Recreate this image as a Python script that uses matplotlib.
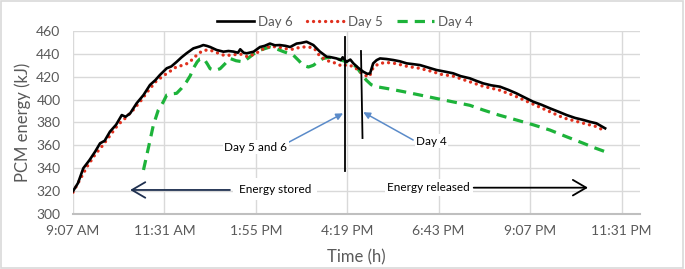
import matplotlib.pyplot as plt
from matplotlib.patches import Rectangle

plt.rcParams['font.family'] = ['Lato', 'DejaVu Sans']

# time in hours of the day, energy in kJ
t6 = [9.12, 9.25, 9.39, 9.55, 9.70, 9.83, 9.95, 10.09, 10.25, 10.40, 10.50, 10.62,
      10.79, 10.97, 11.14, 11.28, 11.40, 11.58, 11.70, 11.84, 11.97, 12.10, 12.28,
      12.45, 12.54, 12.63, 12.72, 12.89, 13.07, 13.20, 13.33, 13.45, 13.51, 13.60,
      13.68, 13.86, 14.03, 14.15, 14.29, 14.42, 14.55, 14.70, 14.82, 14.99, 15.10,
      15.25, 15.35, 15.43, 15.60, 15.78, 15.90, 16.04, 16.15, 16.20, 16.30, 16.40,
      16.48, 16.60, 16.74, 16.85, 16.92, 17.00, 17.09, 17.18, 17.35, 17.53, 17.70,
      17.88, 18.05, 18.23, 18.45, 18.66, 18.88, 19.10, 19.30, 19.54, 19.70, 19.89,
      20.10, 20.33, 20.55, 20.76, 21.00, 21.20, 21.42, 21.64, 21.86, 22.08, 22.30,
      22.52, 22.70, 22.86, 23.09]
e6 = [320, 327, 340, 347, 354.5, 361.8, 364, 372, 378, 386.5, 385, 388,
      396.8, 404, 412.8, 417, 421.5, 427.4, 429, 433, 437, 440.5, 444.8,
      446.5, 447.7, 447, 446, 443.4, 441.9, 442.5, 442, 441, 444, 441,
      440.5, 441.9, 446, 447, 449, 447.5, 447.7, 447, 446, 449, 449.5,
      450.6, 449, 447.7, 442, 437.5, 437, 436, 434.5, 437, 433, 435,
      431.7, 428, 424.4, 422.5, 423, 431.7, 434.5, 436, 435.5, 434.6, 433.5,
      431.7, 431, 430.2, 428, 425.9, 424.5, 423, 420.5, 418.6, 416.5, 414.2,
      412.5, 411.3, 408.5, 405.5, 401.5, 398.2, 395.5, 392.4, 389.5, 386.5, 384,
      382.2, 380.5, 379.3, 374.9]

t5 = [9.12, 9.3, 9.5, 9.7, 9.9, 10.1, 10.3, 10.5, 10.7, 10.9, 11.1, 11.3, 11.5,
      11.7, 11.84, 12.0, 12.15, 12.28, 12.40, 12.54, 12.7, 12.9, 13.1, 13.3, 13.5,
      13.7, 13.9, 14.1, 14.3, 14.5, 14.7, 14.9, 15.1, 15.3, 15.45, 15.6, 15.8, 16.0,
      16.2, 16.3, 16.48, 16.6, 16.75, 16.9, 17.0, 17.15, 17.35, 17.6, 17.9, 18.2,
      18.5, 18.8, 19.1, 19.5, 19.9, 20.3, 20.7, 21.2, 21.6, 22.0, 22.5, 22.85, 23.04]
e5 = [319, 330, 342, 352, 360, 369, 378, 384, 391, 399, 408, 416, 421,
      425.5, 428.8, 430, 432, 436, 440, 443, 443.5, 441, 438.5, 439, 440,
      437.5, 440, 444, 446.5, 446, 444.5, 444, 446, 446, 445, 438, 434, 432,
      429, 430.5, 429, 426, 421.5, 420, 428, 431.5, 432.5, 431.5, 429, 427.5,
      425, 422, 420.5, 416, 411.5, 408.5, 403.5, 396, 390, 384, 379.5, 376.5, 373.4]

t4 = [10.97, 11.10, 11.23, 11.36, 11.49, 11.58, 11.70, 11.84, 11.97, 12.10, 12.20,
      12.28, 12.38, 12.45, 12.55, 12.65, 12.72, 12.85, 12.98, 13.10, 13.24, 13.40,
      13.59, 13.75, 13.94, 14.10, 14.29, 14.45, 14.64, 14.90, 15.05, 15.16, 15.30,
      15.43, 15.55, 15.69, 15.85, 16.04, 16.30, 16.56, 16.70, 16.82, 16.95, 17.09,
      17.40, 17.79, 18.23, 18.66, 19.10, 19.54, 19.89, 20.30, 20.76, 21.20, 21.64,
      22.08, 22.52, 22.80, 23.09]
e4 = [338.5, 358, 377.8, 391, 398, 404, 405, 405.5, 410, 415.6, 421,
      427.4, 433, 435.5, 436, 431, 427, 425.5, 427, 431, 436, 434,
      433, 437, 442, 444, 446, 444.5, 442, 439, 434, 430, 428.5,
      430, 433, 436, 437, 436, 433, 428.8, 422, 417, 413, 411.3,
      409.5, 407, 404, 401, 398, 395, 390.9, 386.5, 382.2, 378, 373.4,
      367.5, 361.8, 358, 354.5]

xticks = [9.12 + 2.4 * k for k in range(7)]
xlabels = ['9:07 AM', '11:31 AM', '1:55 PM', '4:19 PM', '6:43 PM', '9:07 PM', '11:31 PM']
yticks = list(range(300, 461, 20))

# hand-drawn marker lines (time, energy)
mark56 = ([16.26, 16.26], [455, 338])
mark4 = ([16.68, 16.72], [442.5, 366.4])

fig = plt.figure(figsize=(6.85, 2.69), dpi=100)
fig.patches.append(Rectangle((0.002, 0.004), 0.995, 0.992, transform=fig.transFigure,
                             fill=False, edgecolor='#D9D9D9', lw=1.2))
ax = fig.add_axes([0.1066, 0.2045, 0.934 - 0.1066, 0.8848 - 0.2045])

ax.plot(t6, e6, color='black', lw=1.9, label='Day 6', zorder=4)
ax.plot(t5, e5, color='#E0301E', lw=2.4, linestyle=(0, (0.01, 1.8)),
        dash_capstyle='round', label='Day 5', zorder=3)
ax.plot(t4, e4, color='#1DB33A', lw=2.3, linestyle=(0, (3.2, 2.2)), label='Day 4', zorder=2)

ax.plot(*mark56, color='black', lw=1.3, zorder=5)
ax.plot(*mark4, color='black', lw=1.3, zorder=5)

ax.set_xlim(9.12, 24)
ax.set_ylim(300, 460)
ax.set_xticks(xticks)
ax.set_xticklabels(xlabels)
ax.set_yticks(yticks)
ax.tick_params(length=0, labelsize=10, colors='#595959')
ax.tick_params(axis='x', pad=8)
ax.tick_params(axis='y', pad=9)
ax.grid(True, color='#D9D9D9', lw=1)
ax.set_axisbelow(True)
for s in ['top', 'right', 'left']:
    ax.spines[s].set_visible(False)
ax.spines['bottom'].set_color('#BFBFBF')
ax.spines['bottom'].set_linewidth(1.5)

ax.set_xlabel('Time (h)', fontsize=12, color='#595959', labelpad=9)
ax.set_ylabel('PCM energy (kJ)', fontsize=12, color='#595959', labelpad=4)

box = dict(facecolor='white', edgecolor='none', pad=1)
blue = '#5B8BC9'
ax.annotate('', xy=(16.21, 388), xytext=(14.74, 362),
            arrowprops=dict(arrowstyle='-|>', color=blue, lw=1.1, mutation_scale=10,
                            shrinkA=0, shrinkB=0), zorder=6)
ax.annotate('', xy=(16.74, 389), xytext=(18.05, 364.7),
            arrowprops=dict(arrowstyle='-|>', color=blue, lw=1.1, mutation_scale=10,
                            shrinkA=0, shrinkB=0), zorder=6)
ax.text(13.92, 358.3, 'Day 5 and 6', fontsize=8.5, ha='center', va='center', bbox=box, zorder=7)
ax.text(18.53, 363.8, 'Day 4', fontsize=8.5, ha='center', va='center', bbox=box, zorder=7)

ax.text(14.42, 321.7, 'Energy stored', fontsize=8.5, ha='center', va='center',
        bbox=dict(facecolor='white', edgecolor='none', pad=4), zorder=6)
ax.annotate('', xy=(10.62, 321), xytext=(13.24, 321),
            arrowprops=dict(arrowstyle='->,head_length=0.6,head_width=0.35', color='#1F3050',
                            lw=1.3, mutation_scale=16, shrinkA=0, shrinkB=0), zorder=7)
ax.text(18.46, 323, 'Energy released', fontsize=8.5, ha='center', va='center',
        bbox=dict(facecolor='white', edgecolor='none', pad=2), zorder=6)
ax.annotate('', xy=(22.64, 323), xytext=(19.64, 323),
            arrowprops=dict(arrowstyle='->,head_length=0.6,head_width=0.35', color='black',
                            lw=1.3, mutation_scale=16, shrinkA=0, shrinkB=0), zorder=7)

leg = ax.legend(loc='center', bbox_to_anchor=(0.48, 1.05), ncol=3, frameon=False,
                fontsize=9.5, handlelength=2.8, handletextpad=0.3, columnspacing=1.1)
for txt in leg.get_texts():
    txt.set_color('#595959')

fig.savefig('out.png', dpi=100, facecolor='white')
